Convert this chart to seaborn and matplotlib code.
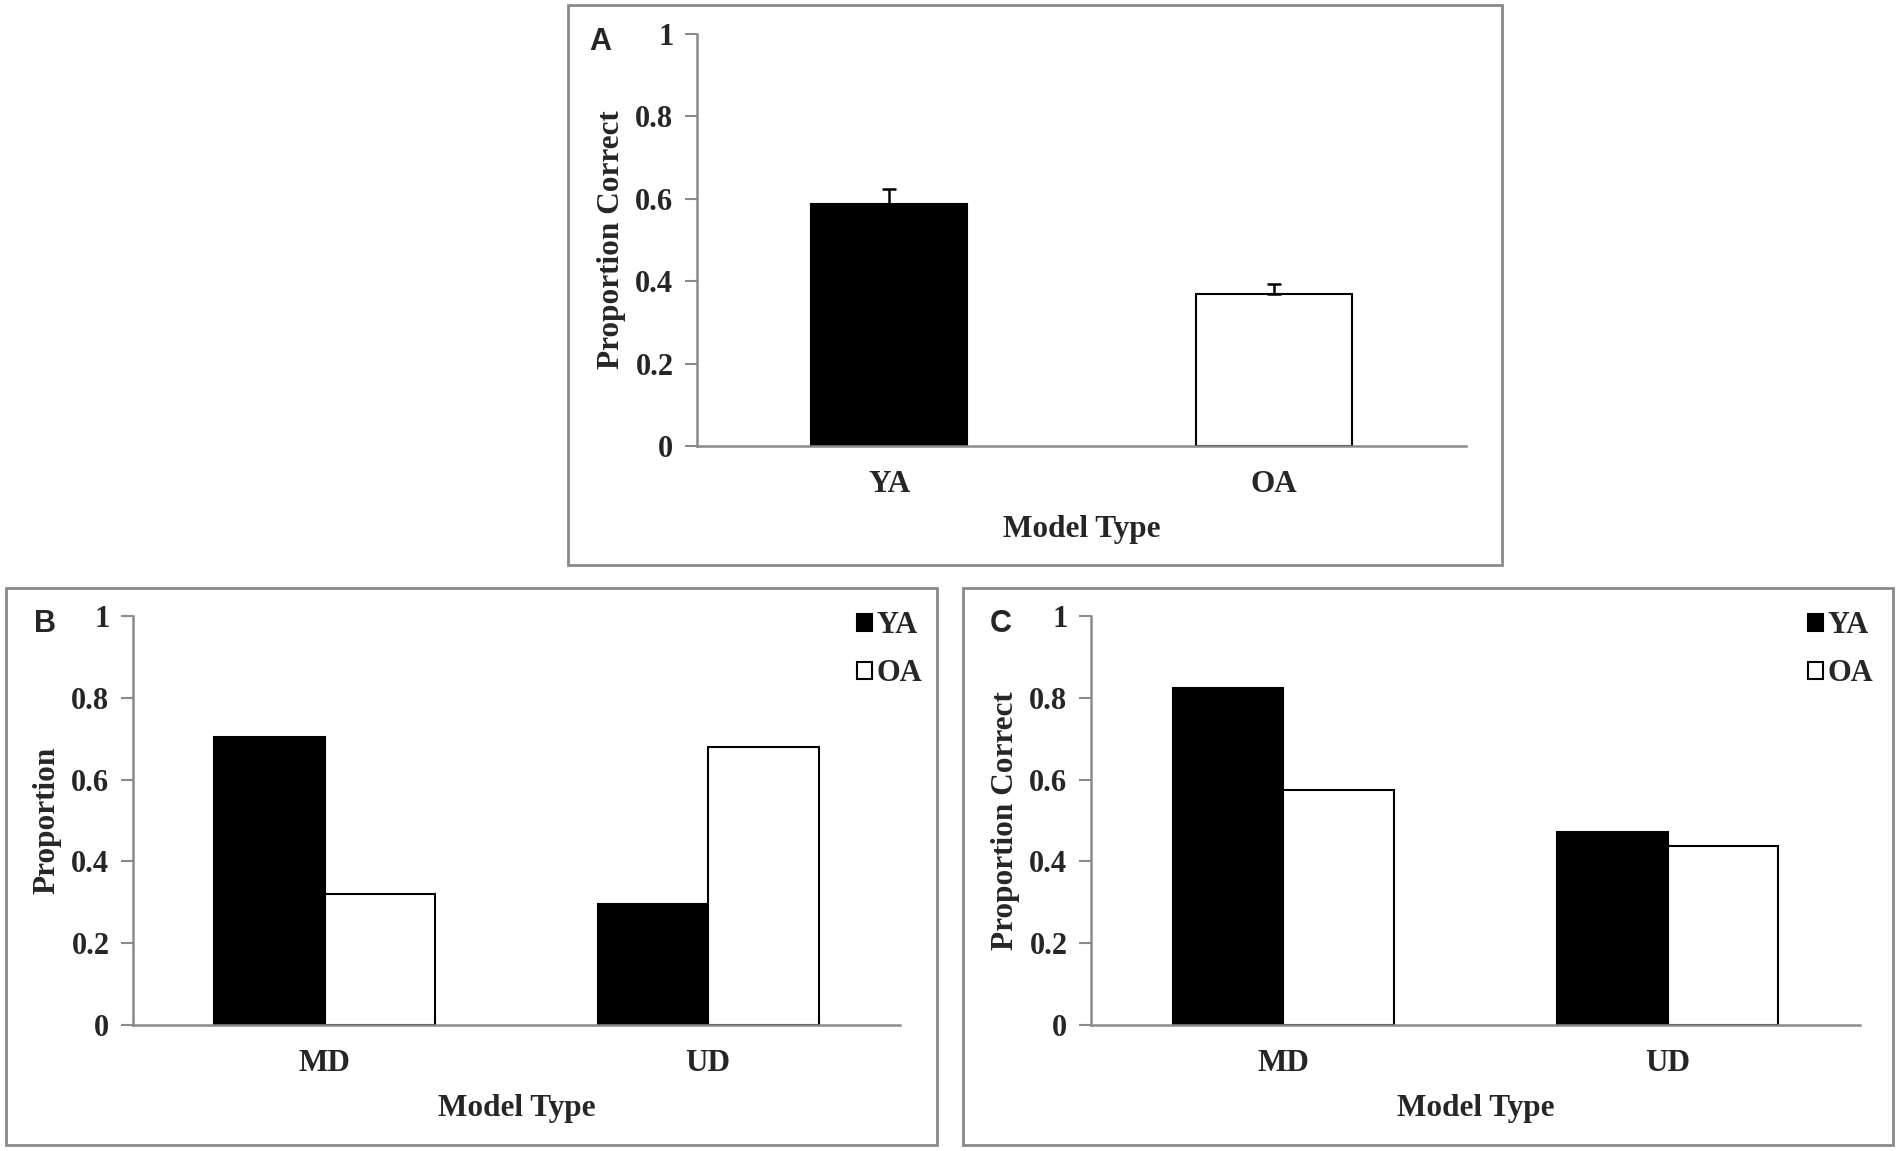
import pandas as pd
import matplotlib.pyplot as plt
from matplotlib.patches import Rectangle
import seaborn as sns

# panel A: proportion correct by model type
groups_a = ['YA', 'OA']
values_a = [0.587, 0.368]
errors_a = [0.036, 0.024]

# panels B and C: model type x age group
model_types = ['MD', 'UD']
ages = ['YA', 'OA']
prop_b = {'YA': [0.705, 0.295], 'OA': [0.320, 0.680]}
prop_c = {'YA': [0.825, 0.472], 'OA': [0.575, 0.438]}

yticks = [0, 0.2, 0.4, 0.6, 0.8, 1]
ytick_labels = ['0', '0.2', '0.4', '0.6', '0.8', '1']

SERIF = ['Liberation Serif', 'DejaVu Serif']
SANS = ['Liberation Sans', 'DejaVu Sans']
GREY = '#8a8a8a'
colors = {'YA': 'black', 'OA': 'white'}

sns.set_style('white')
plt.rcParams['font.family'] = SERIF


def long_frame(props):
    rows = []
    for age in ages:
        for mt, v in zip(model_types, props[age]):
            rows.append({'model': mt, 'age': age, 'value': v})
    return pd.DataFrame(rows)


def style_axes(ax, ylabel, n_cat):
    ax.set_ylim(0, 1)
    ax.set_xlim(-0.5, n_cat - 0.5)
    ax.set_yticks(yticks)
    ax.set_yticklabels(ytick_labels, fontsize=22, fontweight='bold')
    for lab in ax.get_xticklabels():
        lab.set_fontsize(22.5)
        lab.set_fontweight('bold')
    ax.tick_params(axis='x', which='major', length=0, pad=17)
    ax.set_xticks([i - 0.5 for i in range(n_cat + 1)], minor=True)
    ax.tick_params(axis='x', which='minor', length=9, width=1.5,
                   color=GREY, direction='out')
    ax.tick_params(axis='y', length=9, width=1.5, color=GREY,
                   direction='out', pad=8, left=True)
    for side in ['top', 'right']:
        ax.spines[side].set_visible(False)
    for side in ['left', 'bottom']:
        ax.spines[side].set_color(GREY)
        ax.spines[side].set_linewidth(1.8)
    ax.set_xlabel('Model Type', fontsize=22.5, fontweight='bold', labelpad=12)
    ax.set_ylabel(ylabel, fontsize=22.5, fontweight='bold', labelpad=7)
    ax.grid(False)


fig = plt.figure(figsize=(19, 11.51), dpi=100)
W, H = 1900, 1151


def px_axes(left, right, top, bottom):
    return fig.add_axes([left / W, 1 - bottom / H, (right - left) / W, (bottom - top) / H])


def px_box(left, right, top, bottom):
    fig.add_artist(Rectangle((left / W, 1 - bottom / H), (right - left) / W,
                             (bottom - top) / H, transform=fig.transFigure,
                             fill=False, edgecolor=GREY, linewidth=2))


# panel A
ax_a = px_axes(697, 1466, 34, 446)
df_a = pd.DataFrame({'group': groups_a, 'value': values_a})
sns.barplot(data=df_a, x='group', y='value', hue='group', palette=colors,
            edgecolor='black', linewidth=1.5, width=0.406, legend=False, ax=ax_a)
ax_a.errorbar(range(len(groups_a)), values_a,
              yerr=[[0] * len(errors_a), errors_a], fmt='none',
              ecolor='black', elinewidth=1.8, capsize=5, capthick=1.8)
style_axes(ax_a, 'Proportion Correct', len(groups_a))

# panels B and C
for props, ylabel, box, letter_x, leg_x in [
        (prop_b, 'Proportion', (133, 900), 34, 842),
        (prop_c, 'Proportion Correct', (1091, 1860), 990, 1793)]:
    ax = px_axes(box[0], box[1], 616, 1025)
    sns.barplot(data=long_frame(props), x='model', y='value', hue='age',
                palette=colors, edgecolor='black', linewidth=1.5,
                width=0.575, ax=ax)
    style_axes(ax, ylabel, len(model_types))
    handles, labels = ax.get_legend_handles_labels()
    ax.legend(handles, labels, loc='upper left',
              bbox_to_anchor=(leg_x / W, 1 - 596 / H),
              bbox_transform=fig.transFigure, frameon=False,
              prop={'family': SERIF, 'weight': 'bold', 'size': 22},
              handlelength=0.48, handleheight=0.48, handletextpad=0.15,
              labelspacing=0.62, borderpad=0)
    fig.text(letter_x / W, 1 - 624 / H, 'B' if props is prop_b else 'C',
             family=SANS, fontweight='bold', fontsize=22,
             ha='left', va='center')

fig.text(589 / W, 1 - 42 / H, 'A', family=SANS, fontweight='bold',
         fontsize=22, ha='left', va='center')

px_box(568, 1502, 5, 565)
px_box(6, 937, 588, 1145)
px_box(963, 1893, 588, 1145)

fig.savefig('out.png', dpi=100)
